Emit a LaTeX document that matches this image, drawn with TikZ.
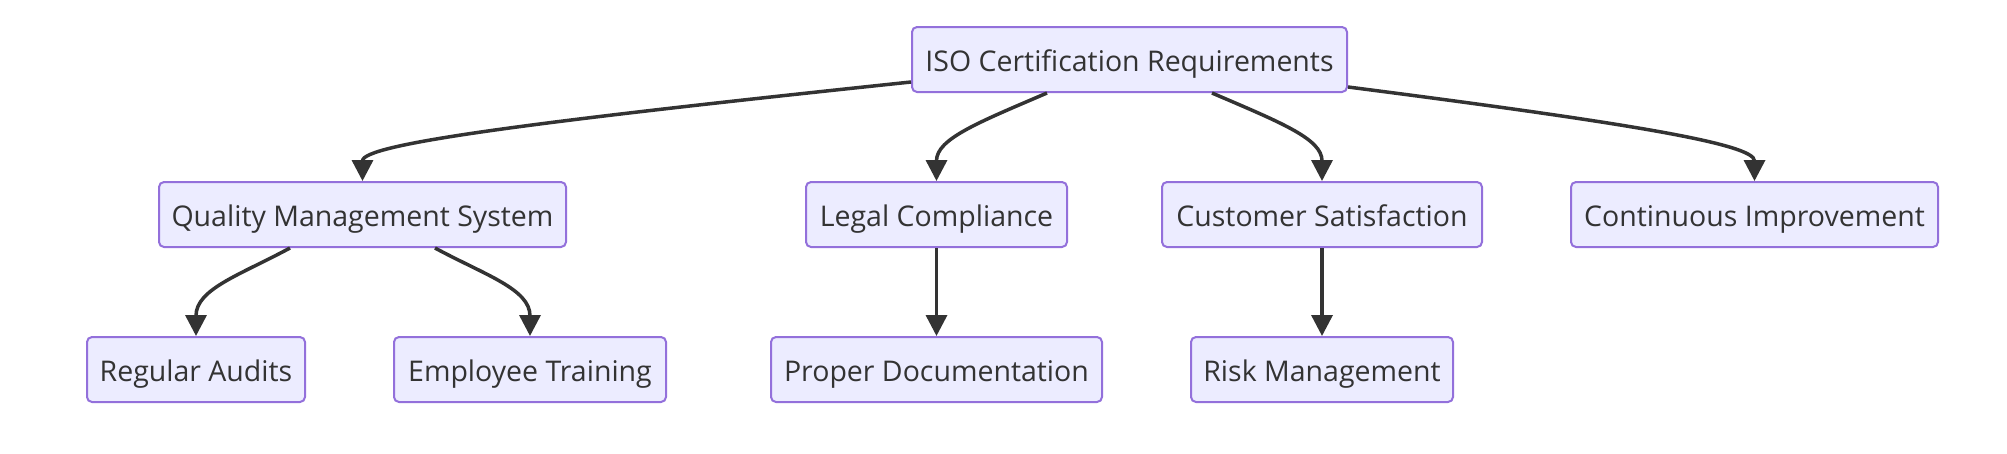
\documentclass[tikz,border=0pt]{standalone}
\usepackage{fontspec}
\setmainfont{Open Sans}
\usetikzlibrary{arrows.meta}
\definecolor{nodefill}{HTML}{ECECFF}
\definecolor{nodeline}{HTML}{9370DB}
\definecolor{edgecol}{HTML}{333333}
\definecolor{txtcol}{HTML}{333333}
\begin{document}
\begin{tikzpicture}[x=1pt,y=-1pt,
  box/.style={draw=nodeline, line width=2pt, fill=nodefill, rounded corners=5pt,
    minimum height=65pt, inner sep=0pt, text height=28pt, text depth=5pt,
    text=txtcol, font=\fontsize{28.5}{34}\selectfont},
  edge/.style={draw=edgecol, line width=3.5pt, -{Triangle[width=21pt,length=21pt]}}]
\useasboundingbox[fill=white] (0,0) rectangle (2007,453);
\node[box, minimum width=435pt] (root) at (1129.5,59.5) {ISO Certification Requirements};
\node[box, minimum width=407pt] (qms) at (362.5,214.5) {Quality Management System};
\node[box, minimum width=261pt] (legal) at (936.5,214.5) {Legal Compliance};
\node[box, minimum width=320pt] (cust) at (1322,214.5) {Customer Satisfaction};
\node[box, minimum width=367pt] (cont) at (1754.5,214.5) {Continuous Improvement};
\node[box, minimum width=218pt] (audits) at (196,369.5) {Regular Audits};
\node[box, minimum width=272pt] (train) at (530,369.5) {Employee Training};
\node[box, minimum width=331pt] (doc) at (936.5,369.5) {Proper Documentation};
\node[box, minimum width=262pt] (risk) at (1322,369.5) {Risk Management};
\draw[edge] ([yshift=11pt]root.south west) .. controls +(-380,40) and +(0,-37) .. (qms.north);
\draw[edge] ([xshift=-82.5pt]root.south) .. controls +(-70,30) and +(0,-42) .. (legal.north);
\draw[edge] ([xshift=82.5pt]root.south) .. controls +(70,30) and +(0,-42) .. (cust.north);
\draw[edge] ([yshift=6pt]root.south east) .. controls +(280,36) and +(0,-37) .. (cont.north);
\draw[edge] ([xshift=-72.5pt]qms.south) .. controls +(-50,27) and +(0,-47) .. (audits.north);
\draw[edge] ([xshift=72.5pt]qms.south) .. controls +(50,27) and +(0,-47) .. (train.north);
\draw[edge] (legal.south) -- (doc.north);
\draw[edge] (cust.south) -- (risk.north);
\end{tikzpicture}
\end{document}
